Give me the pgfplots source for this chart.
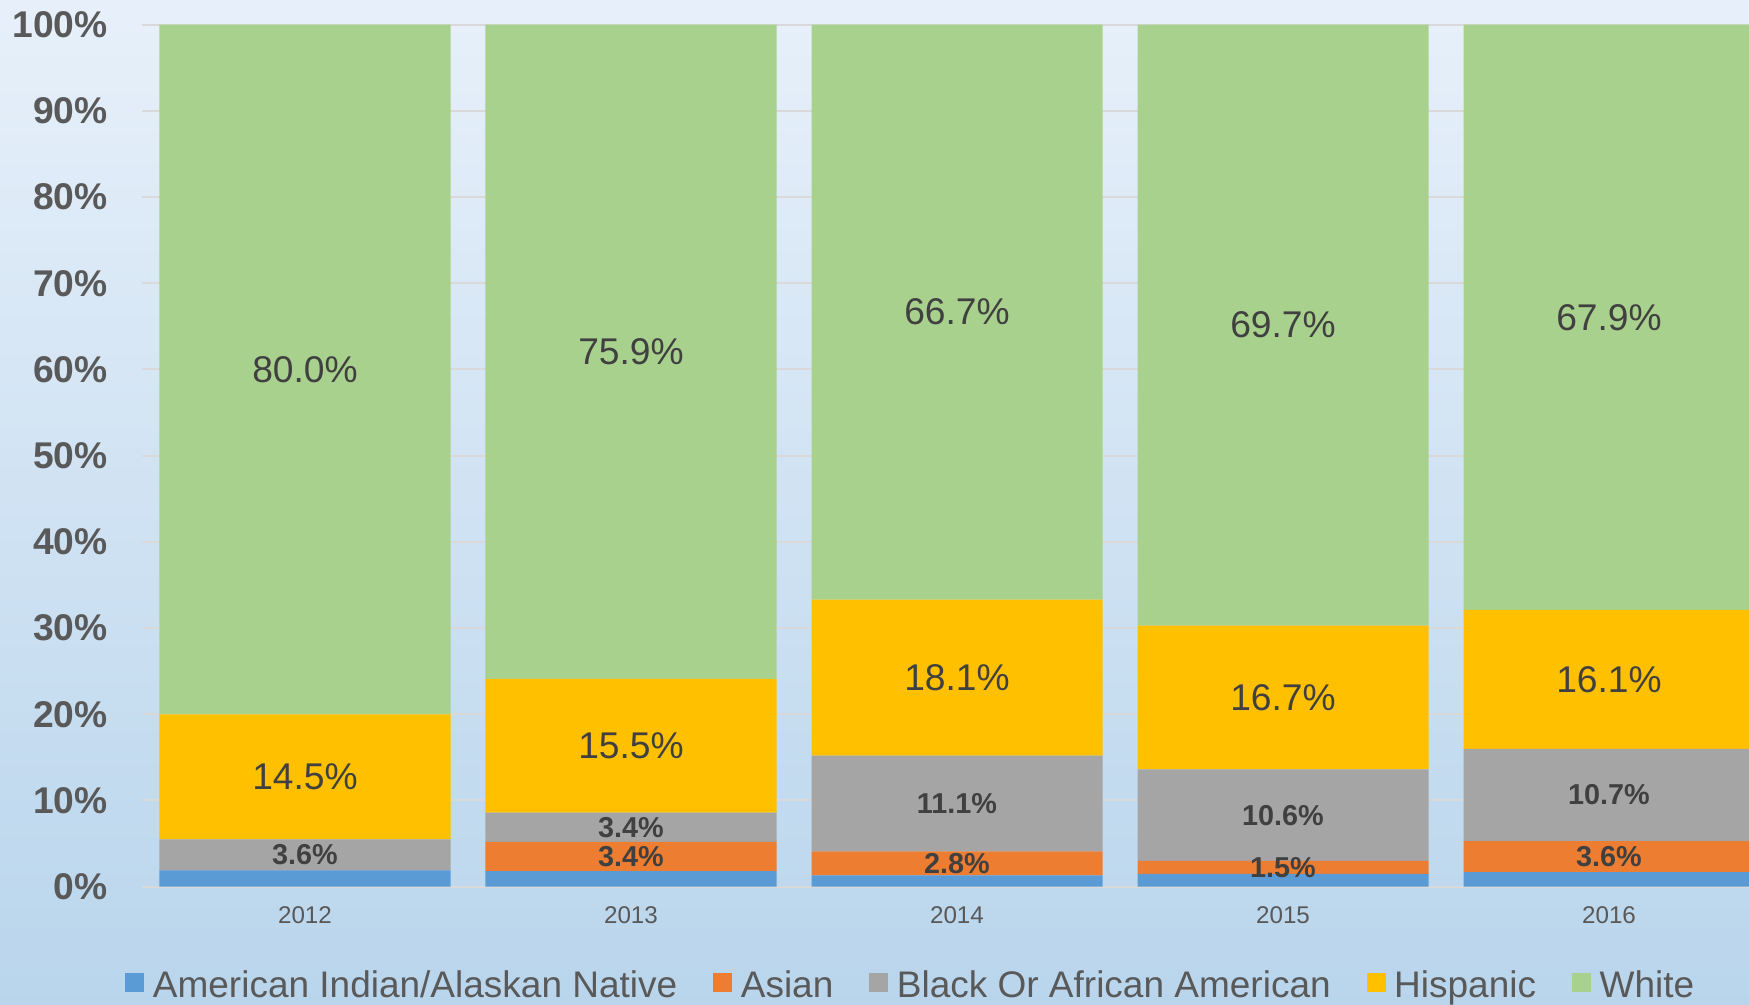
\documentclass[border=0pt]{standalone}
\usepackage{fontspec}
\setmainfont{Liberation Sans}
\usepackage{pgfplots}
\pgfplotsset{compat=1.18}

\definecolor{cnative}{HTML}{5B9BD5}
\definecolor{casian}{HTML}{ED7D31}
\definecolor{cblack}{HTML}{A5A5A5}
\definecolor{chisp}{HTML}{FFC000}
\definecolor{cwhite}{HTML}{A9D18E}
\definecolor{gridc}{HTML}{D9D9D9}
\definecolor{tickc}{HTML}{595959}
\definecolor{labc}{HTML}{404040}
\definecolor{bgtop}{HTML}{E7F0FA}
\definecolor{bgbot}{HTML}{B9D5EC}

\pgfplotsset{chartbase/.style={
  scale only axis, width=815pt, height=431pt,
  xmin=-0.5, xmax=4.5, ymin=0, ymax=100, enlargelimits=false,
}}

\begin{document}
\begin{tikzpicture}
\useasboundingbox (-71pt,-59.15pt) rectangle (803.5pt,443.35pt);
\shade[top color=bgtop, bottom color=bgbot] (-71pt,-59.15pt) rectangle (803.5pt,443.35pt);

\begin{axis}[chartbase,
  ybar stacked, bar width=145.5pt,
  axis line style={draw=none},
  tick style={draw=none},
  ymajorgrids, major grid style={gridc, line width=1pt},
  xtick={0,1,2,3,4}, xticklabels={2012,2013,2014,2015,2016},
  ytick={0,10,...,100},
  yticklabels={0\%,10\%,20\%,30\%,40\%,50\%,60\%,70\%,80\%,90\%,100\%},
  xticklabel style={font=\fontsize{12.1}{14}\selectfont, text=tickc, anchor=north, inner sep=0pt, yshift=-9.6pt},
  yticklabel style={font=\fontsize{18.6}{20}\selectfont\bfseries, text=tickc, anchor=east, inner sep=0pt, xshift=-17pt},
  legend columns=-1,
  legend image code/.code={\fill[#1] (0pt,-3.5pt) rectangle (9.5pt,6pt);},
  legend style={at={(0,0)}, anchor=west, xshift=-8.5pt, yshift=-49.3pt,
    draw=none, fill=none, inner sep=0pt,
    font=\fontsize{18.5}{20}\selectfont, text=tickc,
    nodes={inner sep=0pt},
    /tikz/every odd column/.append style={column sep=4.25pt},
    /tikz/every even column/.append style={column sep=18pt}},
]
\addplot[fill=cnative, draw=none] coordinates {(0,1.9) (1,1.8) (2,1.3) (3,1.5) (4,1.7)};
\addlegendentry{American Indian/Alaskan Native}
\addplot[fill=casian, draw=none] coordinates {(0,0) (1,3.4) (2,2.8) (3,1.5) (4,3.6)};
\addlegendentry{Asian}
\addplot[fill=cblack, draw=none] coordinates {(0,3.6) (1,3.4) (2,11.1) (3,10.6) (4,10.7)};
\addlegendentry{Black Or African American}
\addplot[fill=chisp, draw=none] coordinates {(0,14.5) (1,15.5) (2,18.1) (3,16.7) (4,16.1)};
\addlegendentry{Hispanic}
\addplot[fill=cwhite, draw=none] coordinates {(0,80.0) (1,75.9) (2,66.7) (3,69.7) (4,67.9)};
\addlegendentry{White}
\end{axis}

% data labels at the middle of each segment
\begin{axis}[chartbase, hide axis, clip=false]
\addplot[draw=none, mark=none, point meta=explicit symbolic,
  nodes near coords={\pgfplotspointmeta\%}, nodes near coords align=center,
  every node near coord/.append style={anchor=center, inner sep=0pt, text=labc,
    font=\fontsize{18.6}{20}\selectfont}]
  coordinates {
    (0,60.0)[80.0] (1,62.05)[75.9] (2,66.65)[66.7] (3,65.15)[69.7] (4,66.05)[67.9]
    (0,12.75)[14.5] (1,16.35)[15.5] (2,24.25)[18.1] (3,21.95)[16.7] (4,24.05)[16.1]
  };
\addplot[draw=none, mark=none, point meta=explicit symbolic,
  nodes near coords={\pgfplotspointmeta\%}, nodes near coords align=center,
  every node near coord/.append style={anchor=center, inner sep=0pt, text=labc,
    font=\fontsize{14.4}{16}\selectfont\bfseries}]
  coordinates {
    (0,3.7)[3.6] (1,6.9)[3.4] (2,9.65)[11.1] (3,8.3)[10.6] (4,10.65)[10.7]
    (1,3.5)[3.4] (2,2.7)[2.8] (3,2.25)[1.5] (4,3.5)[3.6]
  };
\end{axis}
\end{tikzpicture}
\end{document}
